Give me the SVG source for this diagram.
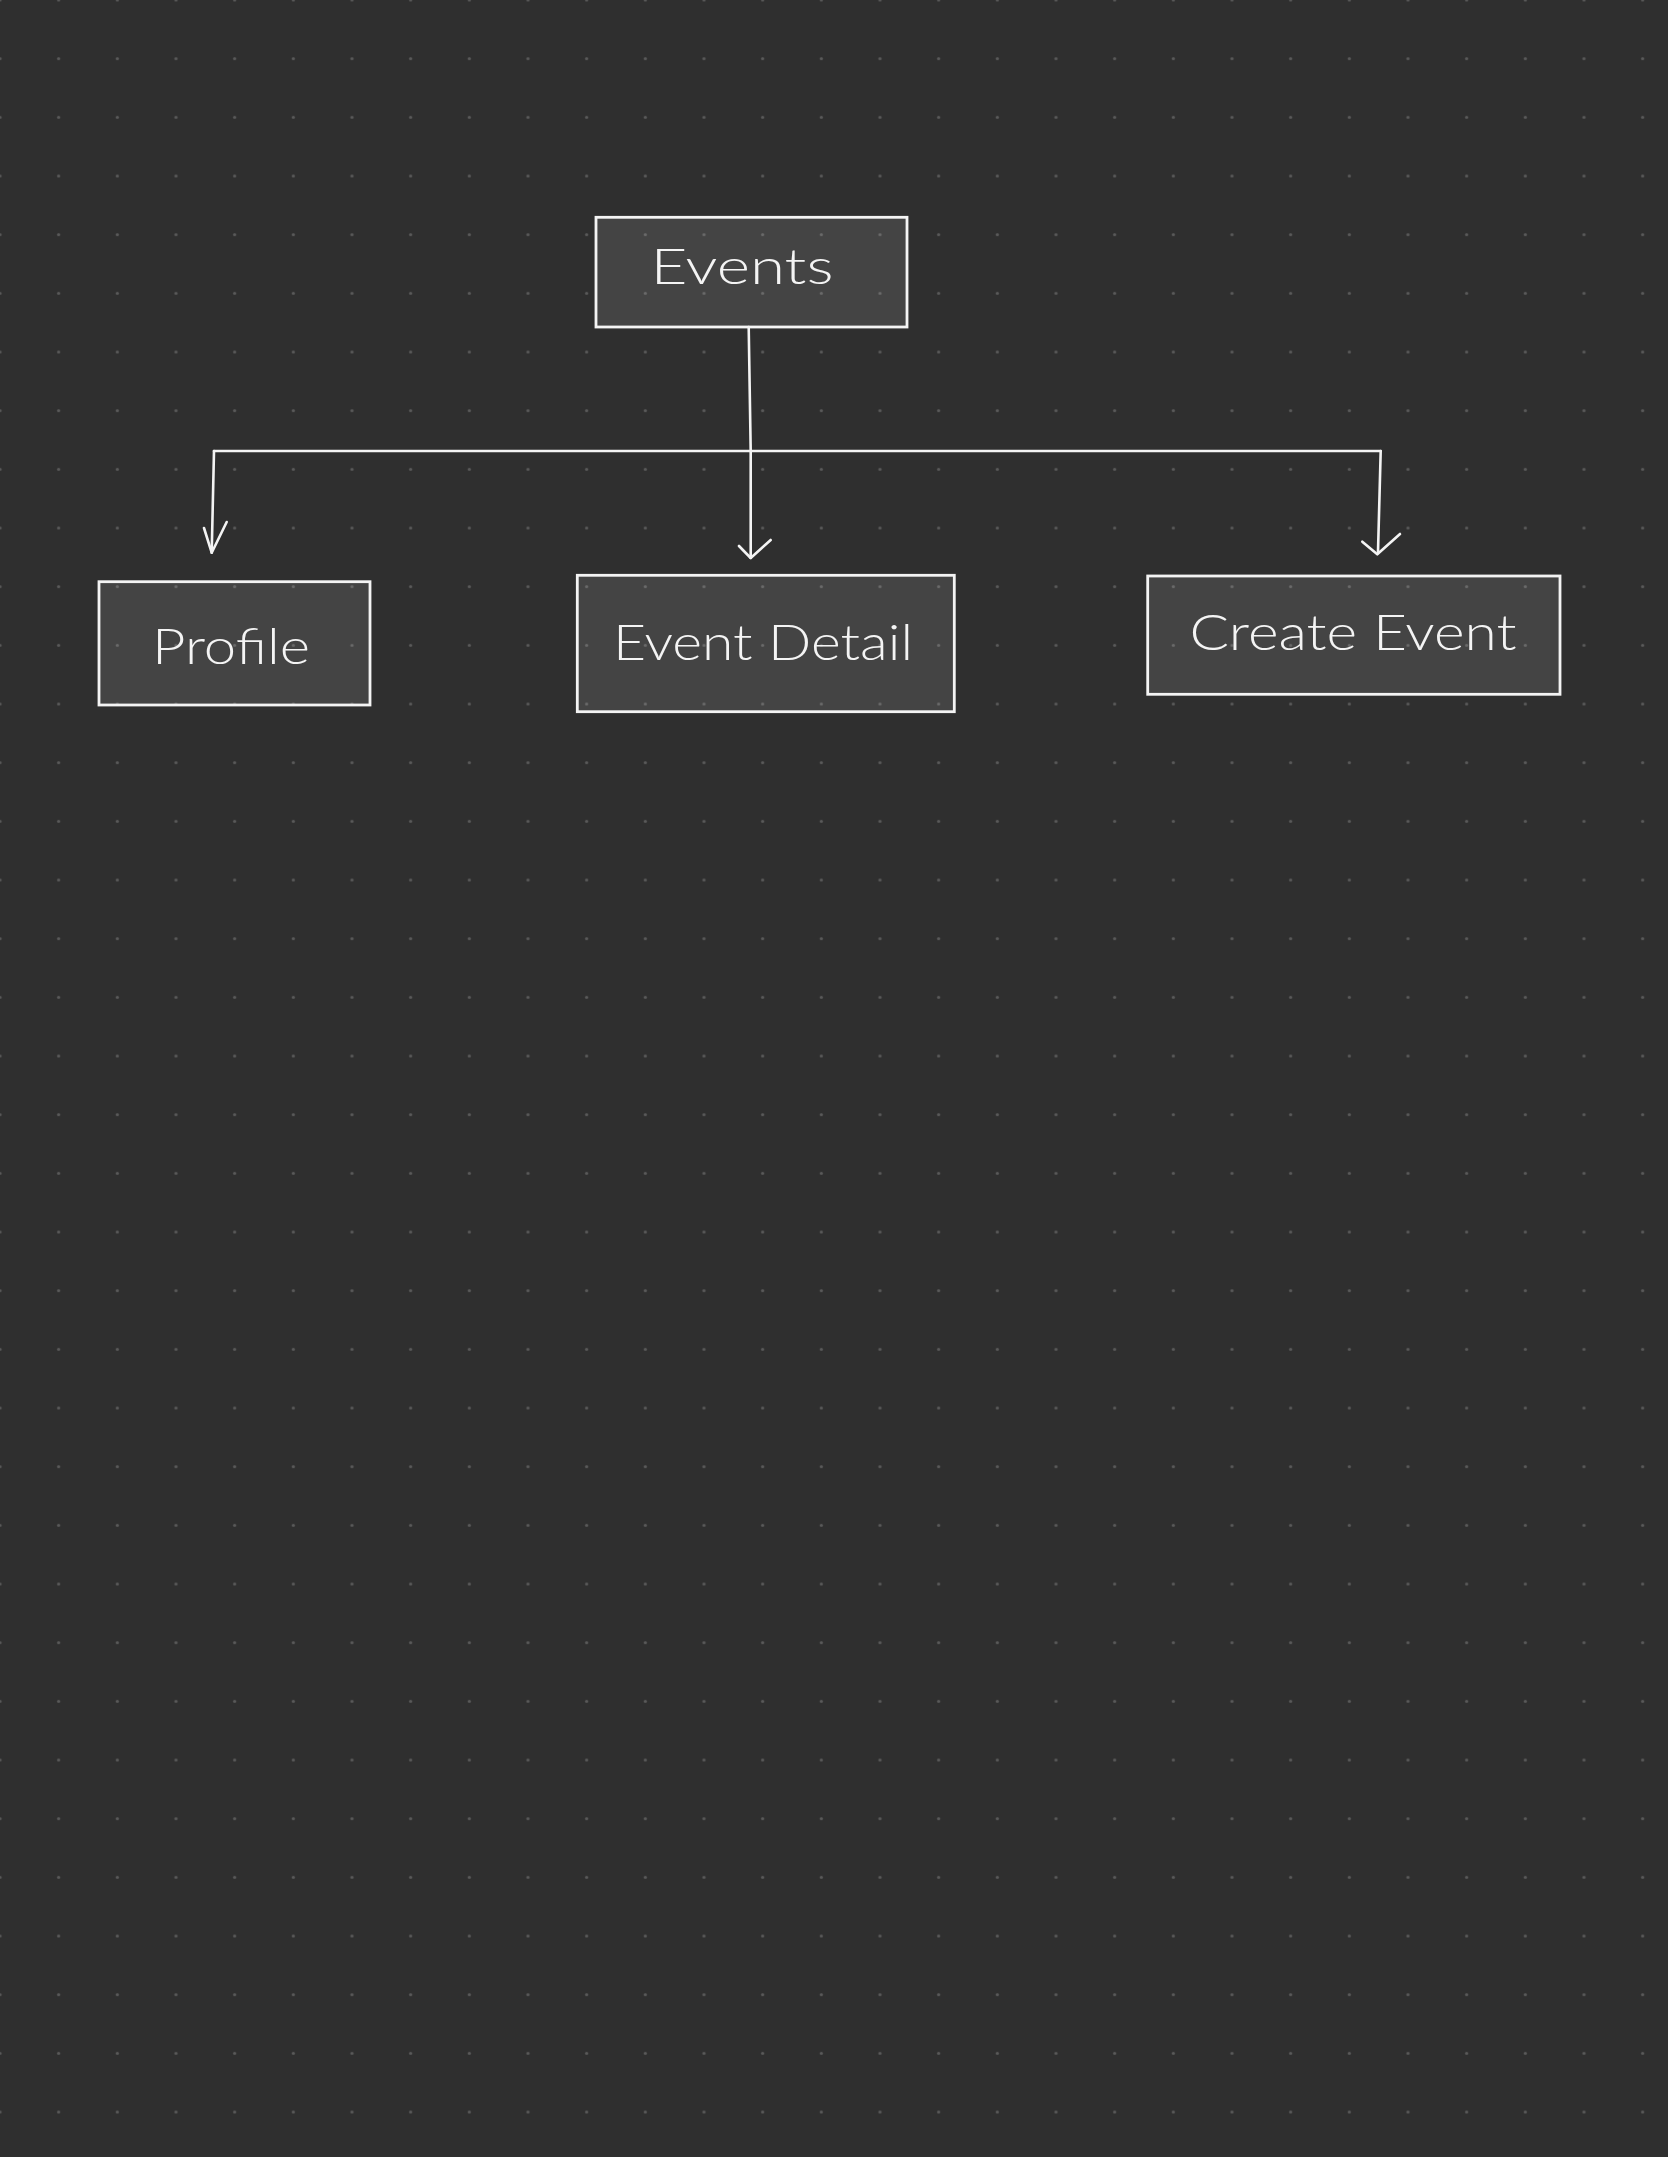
<svg xmlns="http://www.w3.org/2000/svg" width="1668" height="2157" viewBox="0 0 1668 2157">
<defs>
<pattern id="dots" x="-29.333" y="-29.333" width="58.667" height="58.667" patternUnits="userSpaceOnUse">
<circle cx="29.333" cy="29.333" r="1.6" fill="#5a5a5a"/>
</pattern>
</defs>
<style>
.box{fill:#ffffff;fill-opacity:0.1;stroke:#f4f4f4;stroke-width:2.8}
.lbl{font-family:"Lato","Open Sans","Liberation Sans",sans-serif;font-size:50px;fill:#f4f4f4;font-weight:300}
.ln{fill:none;stroke:#f4f4f4;stroke-width:2.6;stroke-linecap:round;stroke-linejoin:round}
</style>
<rect width="1668" height="2157" fill="#2f2f2f"/>
<rect width="1668" height="2157" fill="url(#dots)"/>
<g id="connectors">
<path class="ln" d="M748.7 327 L750.7 451"/>
<path class="ln" d="M214 451 L1380.7 451"/>
<path class="ln" d="M214 451 L211.7 552.7"/>
<path class="ln" d="M204 528 L211.7 552.7 L226.7 522"/>
<path class="ln" d="M750.7 451 L750.7 558"/>
<path class="ln" d="M739 546 L750.7 558 L770.7 540"/>
<path class="ln" d="M1380.7 451 L1378 552"/>
<path class="ln" d="M1362.3 541.7 L1377.3 554.3 L1400 534"/>
</g>
<g id="node-events">
<rect class="box" x="596" y="217.3" width="311" height="109.7"/>
<text class="lbl" x="742" y="284" text-anchor="middle" textLength="183" lengthAdjust="spacingAndGlyphs">Events</text>
</g>
<g id="node-profile">
<rect class="box" x="99" y="581.7" width="271" height="123.3"/>
<text class="lbl" x="231" y="664" text-anchor="middle" textLength="158" lengthAdjust="spacingAndGlyphs">Profile</text>
</g>
<g id="node-event-detail">
<rect class="box" x="577.3" y="575.3" width="377" height="136.4"/>
<text class="lbl" x="763" y="660" text-anchor="middle" textLength="300" lengthAdjust="spacingAndGlyphs">Event Detail</text>
</g>
<g id="node-create-event">
<rect class="box" x="1147.7" y="576" width="412.3" height="118.3"/>
<text class="lbl" x="1353" y="650" text-anchor="middle" textLength="327" lengthAdjust="spacingAndGlyphs">Create Event</text>
</g>
</svg>
